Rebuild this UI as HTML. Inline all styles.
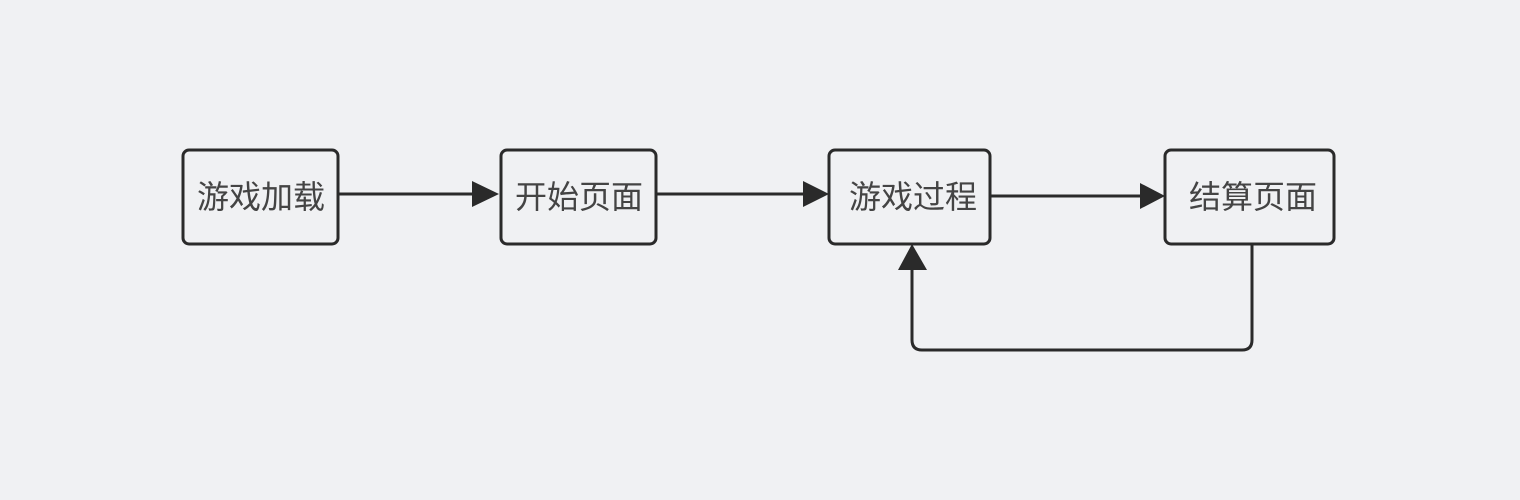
<!DOCTYPE html>
<html><head><meta charset="utf-8"><style>
html,body{margin:0;padding:0;background:#f0f1f3;}
svg{display:block}
text{font-family:"Liberation Sans","Noto Sans CJK SC",sans-serif;font-size:32px;fill:#444;}
</style></head><body>
<svg width="1520" height="500" viewBox="0 0 1520 500">
<rect width="1520" height="500" fill="#f0f1f3"/>
<g fill="none" stroke="#2a2a2a" stroke-width="3">
<rect x="183" y="150" width="155" height="94" rx="6"/>
<rect x="501" y="150" width="155" height="94" rx="6"/>
<rect x="829" y="150" width="161" height="94" rx="6"/>
<rect x="1165" y="150" width="169" height="94" rx="6"/>
<line x1="338" y1="194" x2="474" y2="194"/>
<line x1="656" y1="194" x2="804" y2="194"/>
<line x1="990" y1="196" x2="1142" y2="196"/>
<path d="M1252 244 V340 Q1252 350 1242 350 H922 Q912 350 912 340 V268"/>
</g>
<g fill="#2a2a2a">
<polygon points="472,181 499,194 472,207"/>
<polygon points="803,181 829,194 803,207"/>
<polygon points="1140,183 1165,196 1140,209"/>
<polygon points="898,270 912,244 927,270"/>
</g>
<text x="261" y="208" text-anchor="middle">游戏加载</text>
<text x="579" y="208" text-anchor="middle">开始页面</text>
<text x="913" y="208" text-anchor="middle">游戏过程</text>
<text x="1253" y="208" text-anchor="middle">结算页面</text>
</svg>
</body></html>
